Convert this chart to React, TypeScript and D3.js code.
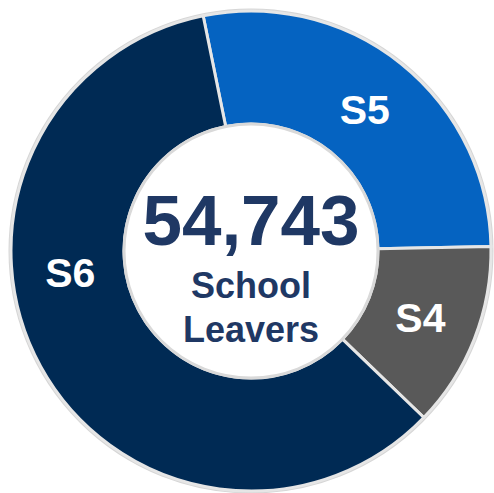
import React from "react";
import * as d3 from "d3";

const categories = ["S5", "S4", "S6"];
const shares = [27.9, 12.5, 59.6];
const totalLabel = "54,743";
const subtitleLines = ["School", "Leavers"];

const colors: Record<string, string> = { S5: "#0563C1", S4: "#595959", S6: "#002A54" };

export default function App() {
  const W = 494, H = 493;
  const cx = 251, cy = 251;
  const outerR = 240, innerR = 127;
  const data = categories.map((c, i) => ({ cat: c, value: shares[i] }));
  const start = (-11.5 * Math.PI) / 180;
  const pie = d3.pie<{ cat: string; value: number }>()
    .value((d) => d.value)
    .sort(null)
    .startAngle(start)
    .endAngle(start + 2 * Math.PI);
  const arcs = pie(data);
  const arc = d3.arc<d3.PieArcDatum<{ cat: string; value: number }>>()
    .innerRadius(innerR)
    .outerRadius(outerR);
  const labelR = 182;
  // S6 label sits lower than the slice's mid-angle in the reference
  const labelShift: Record<string, number> = { S6: (22 * Math.PI) / 180 };

  return (
    <svg width={W} height={H} style={{ position: "absolute", left: 0, top: 0, background: "#fff" }}
      fontFamily="Arial, 'Liberation Sans', sans-serif">
      <g transform={`translate(${cx},${cy})`}>
        <circle r={outerR + 1} fill="none" stroke="#d6d6d6" strokeWidth={3} />
        {arcs.map((a) => (
          <path key={a.data.cat} d={arc(a) || ""} fill={colors[a.data.cat]} stroke="#e6e6e6" strokeWidth={3} />
        ))}
        <circle r={innerR} fill="#fff" stroke="#d9d9d9" strokeWidth={3} />
        {arcs.map((a) => {
          const ang = (a.startAngle + a.endAngle) / 2 + (labelShift[a.data.cat] || 0);
          const x = Math.sin(ang) * labelR;
          const y = -Math.cos(ang) * labelR;
          return (
            <text key={a.data.cat} x={x} y={y} dy="0.36em" textAnchor="middle" fill="#fff"
              fontWeight="bold" fontSize={41}>
              {a.data.cat}
            </text>
          );
        })}
        <text x={0} y={-6} textAnchor="middle" fill="#1F3864" fontWeight="bold" fontSize={71}>
          {totalLabel}
        </text>
        {subtitleLines.map((t, i) => (
          <text key={t} x={0} y={47 + i * 44} textAnchor="middle" fill="#1F3864" fontWeight="bold" fontSize={36}>
            {t}
          </text>
        ))}
      </g>
    </svg>
  );
}
